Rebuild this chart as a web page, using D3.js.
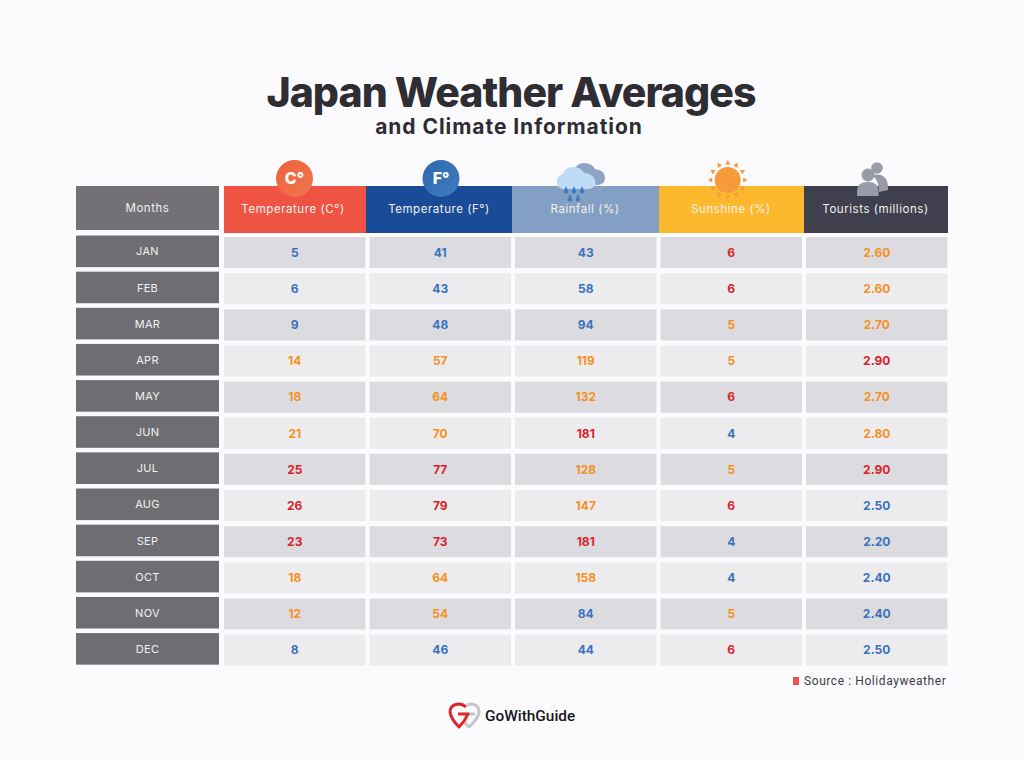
<!DOCTYPE html>
<html>
<head>
<meta charset="utf-8">
<script src="https://cdn.jsdelivr.net/npm/d3@7"></script>
<style>
  html, body { margin: 0; padding: 0; background: #fbfbfe; }
  svg { display: block; }
</style>
</head>
<body>
<svg id="chart" width="1024" height="760"></svg>
<script>
const months = ["JAN", "FEB", "MAR", "APR", "MAY", "JUN", "JUL", "AUG", "SEP", "OCT", "NOV", "DEC"];
const headers = ["Temperature (C°)", "Temperature (F°)", "Rainfall (%)", "Sunshine (%)", "Tourists (millions)"];
const tempC = ["5", "6", "9", "14", "18", "21", "25", "26", "23", "18", "12", "8"];
const tempF = ["41", "43", "48", "57", "64", "70", "77", "79", "73", "64", "54", "46"];
const rainfall = ["43", "58", "94", "119", "132", "181", "128", "147", "181", "158", "84", "44"];
const sunshine = ["6", "6", "5", "5", "6", "4", "5", "6", "4", "4", "5", "6"];
const tourists = ["2.60", "2.60", "2.70", "2.90", "2.70", "2.80", "2.90", "2.50", "2.20", "2.40", "2.40", "2.50"];
const columns = [tempC, tempF, rainfall, sunshine, tourists];
// low/mid/high breaks used for the value colours
const breaks = [[10, 23], [50, 72], [100, 160], [5, 6], [2.6, 2.9]];

const headerColors = ["#ef5344", "#194b98", "#83a0c4", "#fdb92e", "#3f3f4d"];
const tierColors = ["#3a72bc", "#f7901e", "#d8232a"];
const font = "Inter, 'Open Sans', sans-serif";

const svg = d3.select("#chart");

// gradients for the two round icons
const defs = svg.append("defs");
[["gradC", "#f0603c", "#f0774e"], ["gradF", "#2f68ad", "#3f7cc0"]].forEach(([id, a, b]) => {
  const g = defs.append("linearGradient").attr("id", id).attr("x1", 0).attr("y1", 0).attr("x2", 1).attr("y2", 1);
  g.append("stop").attr("offset", 0).attr("stop-color", a);
  g.append("stop").attr("offset", 1).attr("stop-color", b);
});

// Title
svg.append("text").attr("x", 511).attr("y", 107)
  .attr("text-anchor", "middle")
  .attr("font-family", font).attr("font-weight", 800)
  .attr("font-size", 41).attr("letter-spacing", -0.95).attr("fill", "#2e2d33")
  .text("Japan Weather Averages");
svg.append("text").attr("x", 509).attr("y", 134)
  .attr("text-anchor", "middle")
  .attr("font-family", font).attr("font-weight", 700)
  .attr("font-size", 21).attr("letter-spacing", 0.95).attr("fill", "#2e2d33")
  .text("and Climate Information");

// Scales
const x = d3.scaleBand().domain(d3.range(5)).range([222, 949.5]).paddingInner(0.028).paddingOuter(0.014);
const y = d3.scaleBand().domain(months).range([234.5, 668.2]).paddingInner(0.14).paddingOuter(0.07);

// Header band
const headerEdges = [224, 366, 512, 659, 804, 948];
svg.append("g").selectAll("rect")
  .data(headers)
  .enter()
  .append("rect")
  .attr("x", (d, i) => headerEdges[i])
  .attr("y", 186)
  .attr("width", (d, i) => headerEdges[i + 1] - headerEdges[i])
  .attr("height", 47)
  .attr("fill", (d, i) => headerColors[i]);

svg.append("rect").attr("x", 76).attr("y", 186).attr("width", 143).attr("height", 44).attr("fill", "#737175");
svg.append("text").attr("x", 147.5).attr("y", 211.5)
  .attr("text-anchor", "middle").attr("font-family", font)
  .attr("font-size", 11.5).attr("letter-spacing", 0.55).attr("fill", "#f0f0f2")
  .text("Months");

// Month labels
svg.append("g").selectAll("rect")
  .data(months)
  .enter()
  .append("rect")
  .attr("x", 76)
  .attr("y", (d) => y(d) - 1.5)
  .attr("width", 143)
  .attr("height", y.bandwidth() + 0.5)
  .attr("fill", "#6f6d71");

svg.append("g").selectAll("text")
  .data(months)
  .enter()
  .append("text")
  .attr("x", 147.5)
  .attr("y", (d) => y(d) + y.bandwidth() / 2 - 1)
  .attr("dy", "0.35em")
  .attr("text-anchor", "middle")
  .attr("font-family", font)
  .attr("font-size", 11)
  .attr("letter-spacing", 0.3)
  .attr("fill", "#f0f0f2")
  .text((d) => d);

// Cells and values
columns.forEach((values, c) => {
  const tier = d3.scaleThreshold().domain(breaks[c]).range(tierColors);
  const col = svg.append("g");
  col.selectAll("rect")
    .data(values)
    .enter()
    .append("rect")
    .attr("x", x(c))
    .attr("y", (d, i) => y(months[i]))
    .attr("width", x.bandwidth())
    .attr("height", y.bandwidth())
    .attr("fill", (d, i) => (i % 2 === 0 ? "#dcdce0" : "#ececef"));
  col.selectAll("text")
    .data(values)
    .enter()
    .append("text")
    .attr("x", x(c) + x.bandwidth() / 2)
    .attr("y", (d, i) => y(months[i]) + y.bandwidth() / 2)
    .attr("dy", "0.36em")
    .attr("text-anchor", "middle")
    .attr("font-family", font)
    .attr("font-weight", 700)
    .attr("font-size", 12)
    .attr("fill", (d) => tier(+d))
    .text((d) => d);
});

// Icons sit on top of the header band, text goes over them
svg.append("circle").attr("cx", 294.5).attr("cy", 178.5).attr("r", 18.5).attr("fill", "url(#gradC)");
svg.append("circle").attr("cx", 441).attr("cy", 178.5).attr("r", 18.5).attr("fill", "url(#gradF)");
[["C°", 294.5], ["F°", 441]].forEach(([t, cx]) => {
  svg.append("text").attr("x", cx).attr("y", 184)
    .attr("text-anchor", "middle").attr("font-family", font).attr("font-weight", 800)
    .attr("font-size", 16).attr("fill", "#fff").text(t);
});

// Rain cloud
const cloud = svg.append("g");
cloud.append("path")
  .attr("d", "M574 172 Q576 163 584 163 Q592 163 595 169 Q605 170 605 178 Q605 185 597 185 L582 185 Z")
  .attr("fill", "#8fa3c4");
cloud.append("path")
  .attr("d", "M563 189 Q556.5 188 557 181 Q557.5 175 563 174 Q565 167 573 167 Q581 167 584 173 Q592 173 595 180 Q597 188 589 189 Z")
  .attr("fill", "#bfdcf7");
[[566, 186], [574, 186], [582, 186], [570, 194], [578, 194]].forEach(([dx, dy]) => {
  cloud.append("path")
    .attr("d", `M${dx} ${dy} l-2 4.5 a2.2 2.2 0 1 0 4 0 Z`)
    .attr("fill", "#3f7cc0");
});

// Sun
const sun = svg.append("g").attr("transform", "translate(727.7,180)");
sun.selectAll("path")
  .data(d3.range(12))
  .enter()
  .append("path")
  .attr("d", "M-2.6 -15.5 L2.6 -15.5 L0 -20 Z")
  .attr("transform", (d) => `rotate(${d * 30})`)
  .attr("fill", "#f79a3c");
sun.append("circle").attr("r", 13).attr("fill", "#f79a3c");

// Tourists
const people = svg.append("g").attr("fill", "#9a9ba8");
people.append("circle").attr("cx", 877).attr("cy", 168).attr("r", 5.8);
people.append("path").attr("d", "M872 175 Q888 172 888 188 L888 190 L879 192 Q879 180 872 175 Z");
people.append("circle").attr("cx", 868).attr("cy", 175).attr("r", 6.5);
people.append("path").attr("d", "M857 196 L857 191 Q857 182 868 182 Q878.5 182 878.5 191 L878.5 196 Z");

// Header labels
const headerCenters = [293, 439, 585, 731, 875.5];
svg.append("g").selectAll("text")
  .data(headers)
  .enter()
  .append("text")
  .attr("x", (d, i) => headerCenters[i])
  .attr("y", 213)
  .attr("text-anchor", "middle")
  .attr("font-family", font)
  .attr("font-size", 11.5)
  .attr("letter-spacing", 0.55)
  .attr("fill", "#f4f1ee")
  .text((d) => d);

// Source note
svg.append("rect").attr("x", 793).attr("y", 677).attr("width", 6).attr("height", 8).attr("fill", "#ef5344");
svg.append("text").attr("x", 804).attr("y", 685)
  .attr("font-family", "Roboto, sans-serif").attr("font-size", 12).attr("letter-spacing", 0.58)
  .attr("fill", "#3c3c44")
  .text("Source : Holidayweather");

// Logo, grey pin behind the red one
const logo = svg.append("g").attr("fill", "none").attr("stroke-width", 3).attr("stroke-linejoin", "round");
logo.append("path")
  .attr("d", "M467 705 Q470 704 472 704 Q479 705 479 712 Q478 719 469 727 L465 723 M468 714 L475 714")
  .attr("stroke", "#c6c6ca");
logo.append("path")
  .attr("d", "M466 707 Q463 704 458 704 Q450 705 450 712 Q451 719 459 727 Q465 721 468 714 L458 714")
  .attr("stroke", "#d8282c");
svg.append("text").attr("x", 485).attr("y", 721)
  .attr("font-family", "Roboto, sans-serif").attr("font-weight", 500).attr("font-size", 15.4)
  .attr("fill", "#17171c")
  .text("GoWithGuide");
</script>
</body>
</html>
